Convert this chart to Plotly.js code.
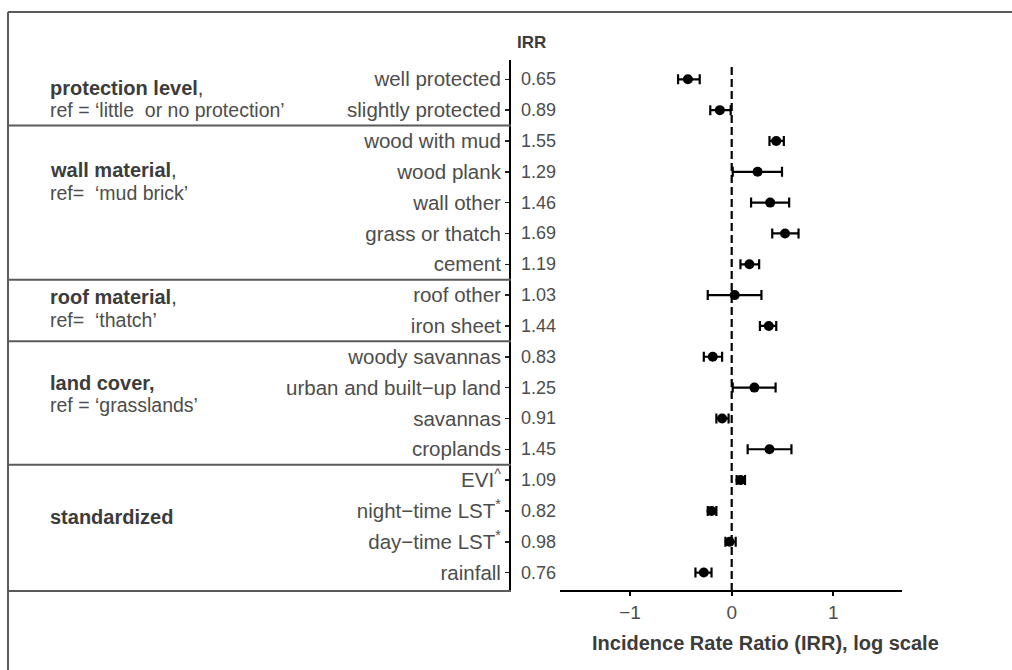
<!DOCTYPE html>
<html>
<head>
<meta charset="utf-8">
<script src="https://cdn.plot.ly/plotly-3.0.1.min.js"></script>
<style>html,body{margin:0;padding:0;background:#fff;}#chart{width:1012px;height:670px;}</style>
</head>
<body>
<div id="chart"></div>
<script>
// ---------- data ----------
const labels = ['well protected','slightly protected','wood with mud','wood plank','wall other','grass or thatch','cement','roof other','iron sheet','woody savannas','urban and built−up land','savannas','croplands','EVI<sup>^</sup>','night−time LST<sup>*</sup>','day−time LST<sup>*</sup>','rainfall'];
const irr    = [0.65,0.89,1.55,1.29,1.46,1.69,1.19,1.03,1.44,0.83,1.25,0.91,1.45,1.09,0.82,0.98,0.76];
const ciLow  = [0.59,0.81,1.45,1.01,1.21,1.49,1.09,0.79,1.32,0.76,1.01,0.86,1.17,1.05,0.79,0.94,0.70];
const ciHigh = [0.73,0.99,1.67,1.64,1.76,1.93,1.31,1.34,1.55,0.91,1.54,0.97,1.80,1.14,0.86,1.04,0.82];
const groupTitles = ['<b>protection level</b>,','<b>wall material</b>,','<b>roof material</b>,','<b>land cover,</b>','<b>standardized</b>'];
const groupRefs   = ['ref = ‘little  or no protection’','ref=  ‘mud brick’','ref=  ‘thatch’','ref = ‘grasslands’',''];
const groupEnds   = [1,6,8,12,16];   // last row index of each group
const xTickVals = [-1,0,1];
const xTickText = ['−1','0','1'];
const headerText = 'IRR';
const xTitle = 'Incidence Rate Ratio (IRR), log scale';

// ---------- layout geometry (pixels) ----------
const W = 1012, H = 670;
const L = 511, R = 902, T = 60, B = 591;
const PW = R - L, PH = B - T;
const zeroPx = 731.7, unitPx = 101.65;
const row0Px = 79.3, rowStep = 30.83;
const px2x = px => (px - L) / PW;
const px2y = py => (B - py) / PH;
const frameLeft = 8, frameTop = 12;
const titleLinePx = [[88,110],[170,192.5],[297,320],[383,405],[517]];

const FONT = '"Liberation Sans", Arial, sans-serif';
const GRAY = '#4d4d4d', DARK = '#3c3c3c', LINE = '#5a5a5a';

const logIrr = irr.map(v => Math.log(v));
const trace = {
  type: 'scatter', mode: 'markers',
  x: logIrr, y: labels,
  marker: {symbol: 'circle', size: 10, color: '#000'},
  error_x: {
    type: 'data', symmetric: false,
    array: ciHigh.map((v, i) => Math.log(v) - logIrr[i]),
    arrayminus: ciLow.map((v, i) => logIrr[i] - Math.log(v)),
    color: '#000', thickness: 2.2, width: 5
  },
  hoverinfo: 'skip', showlegend: false, cliponaxis: false
};

const shapes = [];
// outer frame (top and left)
shapes.push({type:'line', xref:'paper', yref:'paper', x0:px2x(frameLeft), x1:px2x(W+5), y0:px2y(frameTop), y1:px2y(frameTop), line:{color:LINE, width:2}});
shapes.push({type:'line', xref:'paper', yref:'paper', x0:px2x(frameLeft), x1:px2x(frameLeft), y0:px2y(frameTop), y1:px2y(H+5), line:{color:LINE, width:2}});
// group separators
groupEnds.forEach((e, gi) => {
  if (gi === groupEnds.length - 1) {
    shapes.push({type:'line', xref:'paper', yref:'paper', x0:px2x(frameLeft), x1:0, y0:0, y1:0, line:{color:LINE, width:2}});
  } else {
    shapes.push({type:'line', xref:'paper', yref:'y', x0:px2x(frameLeft), x1:0, y0:e + 0.5, y1:e + 0.5, line:{color:LINE, width:2}});
  }
});
// x axis line
shapes.push({type:'line', xref:'paper', yref:'paper', x0:px2x(560), x1:1, y0:0, y1:0, line:{color:'#000', width:2}});
// dashed reference line at IRR = 1
shapes.push({type:'line', xref:'x', yref:'paper', x0:0, x1:0, y0:0, y1:px2y(65), line:{color:'#000', width:2.2, dash:'8px,4px'}});

const annotations = [];
// IRR values column
irr.forEach((v, i) => {
  annotations.push({xref:'paper', yref:'y', x:0, y:i, xshift:8, xanchor:'left', yanchor:'middle', showarrow:false,
    text: v.toFixed(2), font:{family:FONT, size:18, color:GRAY}});
});
// header
annotations.push({xref:'paper', yref:'paper', x:px2x(515), y:px2y(42), xanchor:'left', yanchor:'middle', showarrow:false,
  text:'<b>' + headerText + '</b>', font:{family:FONT, size:17, color:DARK}});
// group labels
groupTitles.forEach((t, gi) => {
  annotations.push({xref:'paper', yref:'paper', x:px2x(48), y:px2y(titleLinePx[gi][0]), xanchor:'left', yanchor:'middle', showarrow:false,
    text:t, font:{family:FONT, size:20, color:DARK}});
  if (groupRefs[gi]) {
    annotations.push({xref:'paper', yref:'paper', x:px2x(48), y:px2y(titleLinePx[gi][1]), xanchor:'left', yanchor:'middle', showarrow:false,
      text:groupRefs[gi], font:{family:FONT, size:19.5, color:GRAY}});
  }
});
// x-axis title
annotations.push({xref:'paper', yref:'paper', x:px2x(765), y:px2y(643), xanchor:'center', yanchor:'middle', showarrow:false,
  text:'<b>' + xTitle + '</b>', font:{family:FONT, size:20, color:DARK}});

const layout = {
  width: W, height: H, autosize: false,
  margin: {l: L, r: W - R, t: T, b: H - B, pad: 0},
  paper_bgcolor: '#fff', plot_bgcolor: '#fff',
  font: {family: FONT, color: GRAY},
  xaxis: {
    range: [(L - zeroPx) / unitPx, (R - zeroPx) / unitPx],
    tickmode: 'array', tickvals: xTickVals, ticktext: xTickText,
    ticks: 'outside', ticklen: 4, tickwidth: 2, tickcolor: '#000',
    showline: false, zeroline: false, showgrid: false,
    tickfont: {family: FONT, size: 19, color: GRAY}, fixedrange: true
  },
  yaxis: {
    type: 'category', categoryorder: 'array', categoryarray: labels,
    range: [(B - row0Px) / rowStep, (T - row0Px) / rowStep],
    ticks: 'outside', ticklen: 4, tickwidth: 1.5, tickcolor: '#222',
    showline: true, linecolor: '#000', linewidth: 2,
    zeroline: false, showgrid: false,
    tickfont: {family: FONT, size: 20.5, color: GRAY}, fixedrange: true
  },
  shapes: shapes,
  annotations: annotations,
  showlegend: false
};

Plotly.newPlot('chart', [trace], layout, {staticPlot: true, displayModeBar: false});
</script>
</body>
</html>
